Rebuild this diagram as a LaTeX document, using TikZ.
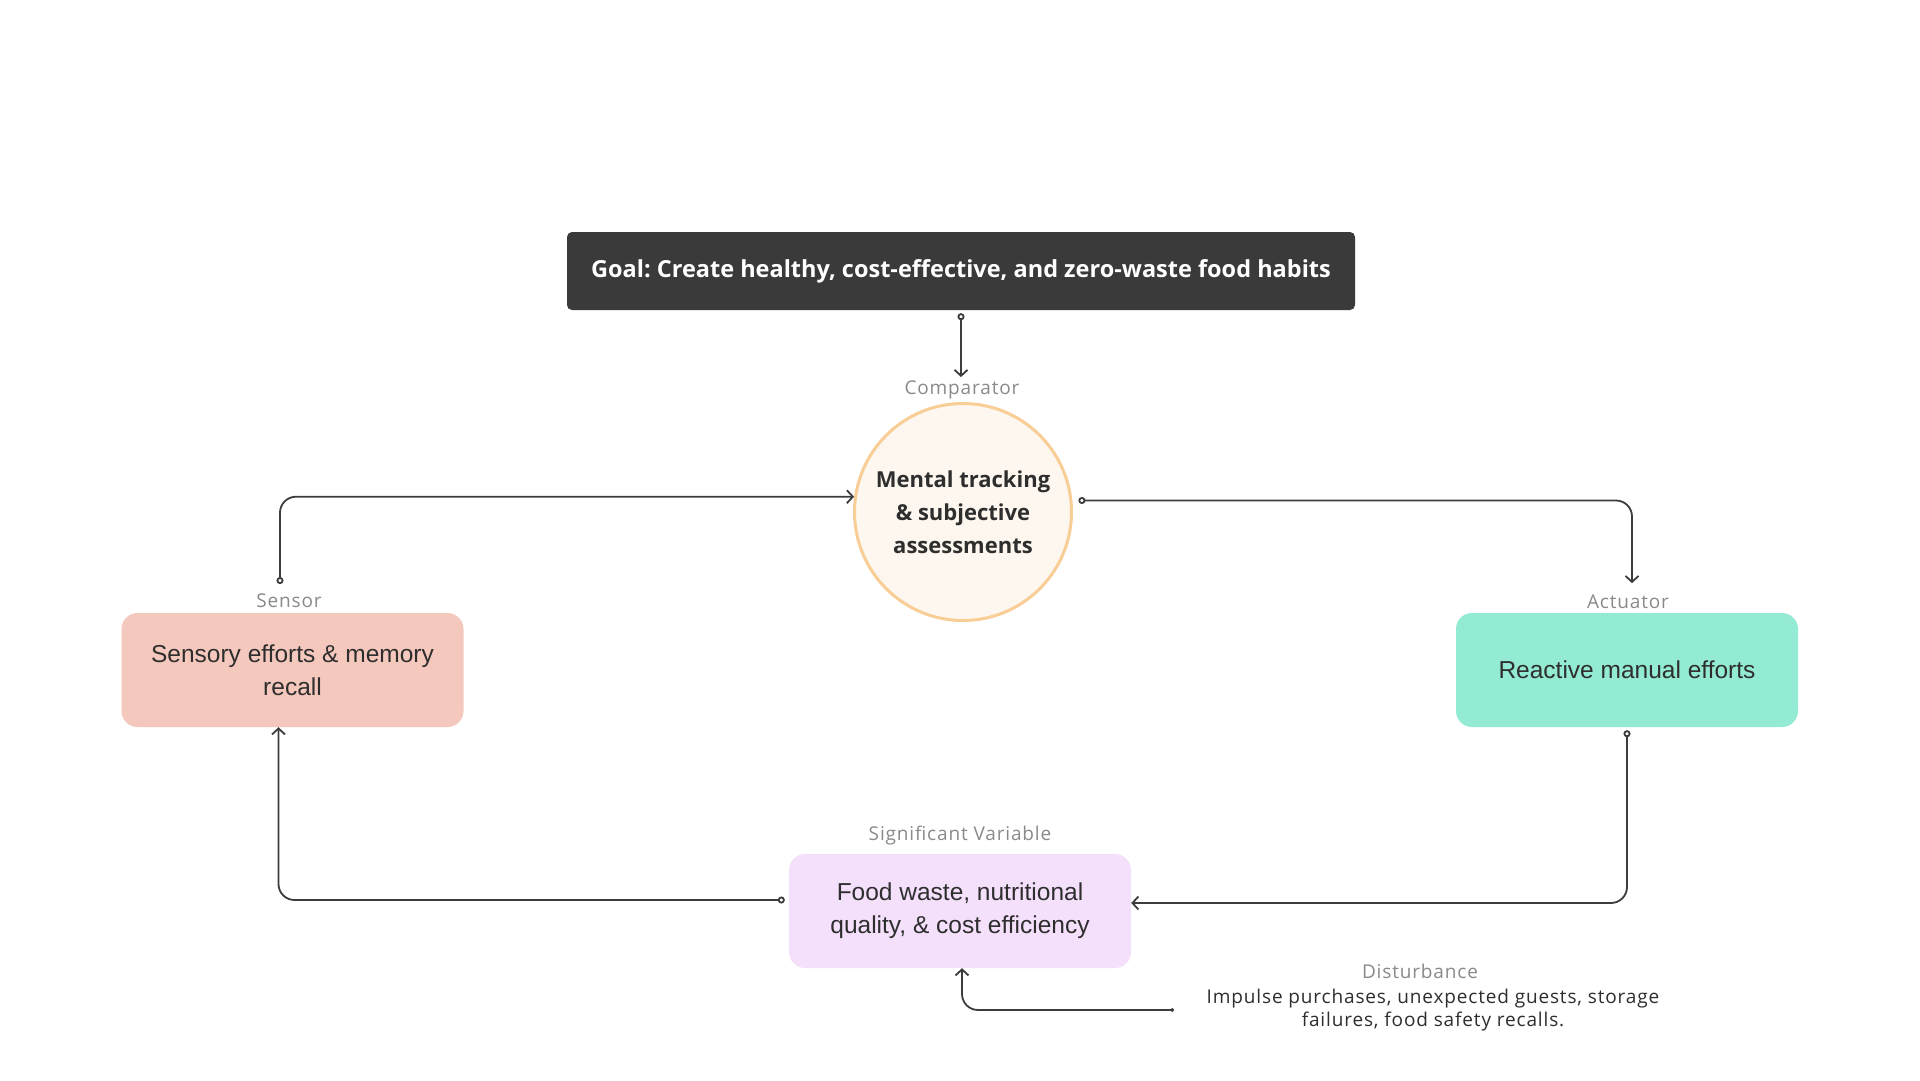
\documentclass[tikz,border=0pt]{standalone}
\usepackage{fontspec}
\setmainfont{Liberation Sans}
\newfontfamily\opensans{Open Sans}
\newfontfamily\opensanswide[LetterSpace=4.5]{Open Sans}
\usetikzlibrary{arrows.meta}
\definecolor{goalgray}{HTML}{3A3A3A}
\definecolor{linegray}{HTML}{3C3C3C}
\definecolor{taggray}{HTML}{8A8A8A}
\definecolor{textdark}{HTML}{2E2E2E}
\definecolor{compfill}{HTML}{FDF7EF}
\definecolor{compedge}{HTML}{F8CD96}
\definecolor{sensorfill}{HTML}{F5C8BD}
\definecolor{actfill}{HTML}{93EBD3}
\definecolor{svfill}{HTML}{F4E0FA}
\frenchspacing

\begin{document}
\begin{tikzpicture}[x=1pt,y=-1pt,
  >={Straight Barb[length=6pt,width=13pt]},
  conn/.style={draw=linegray,line width=1.8pt,rounded corners=16pt},
  link/.style={conn,{Circle[open,length=7pt,width=7pt]}->},
  tag/.style={font=\opensanswide\fontsize{19}{22}\selectfont,text=taggray,anchor=base,inner sep=1pt},
  box/.style={rectangle,rounded corners=16pt,minimum width=342pt,minimum height=114pt,
    text=textdark,font=\fontsize{24.5}{33}\selectfont,align=center}]
  \fill[white] (0,0) rectangle (1920,1080);
  \useasboundingbox (0,0) rectangle (1920,1080);
  \node[rectangle,rounded corners=5pt,fill=goalgray,minimum width=788pt,minimum height=78pt,
    text=white,font=\opensans\bfseries\fontsize{23.5}{28}\selectfont] (goal) at (961,271)
    {Goal: Create healthy, cost-effective, and zero-waste food habits};
  \node[tag] (complabel) at (962,394) {Comparator};
  \node[circle,draw=compedge,line width=3pt,fill=compfill,minimum size=217pt,inner sep=0pt,
    align=center,text=textdark,font=\opensans\bfseries\fontsize{22}{33}\selectfont] (comp) at (963,512)
    {Mental tracking\\\& subjective\\assessments};
  \node[tag] (sensorlabel) at (289,607) {Sensor};
  \node[box,fill=sensorfill] (sensor) at (292.5,670) {Sensory efforts \& memory\\recall};
  \node[tag] (actlabel) at (1628,608) {Actuator};
  \node[box,fill=actfill] (act) at (1627,670) {Reactive manual efforts};
  \node[tag] (svlabel) at (960,840) {Significant Variable};
  \node[box,fill=svfill] (sv) at (960,911) {Food waste, nutritional\\quality, \& cost efficiency};
  \node[tag] (distlabel) at (1420,978) {Disturbance};
  \node[font=\opensanswide\fontsize{19}{23}\selectfont,text=textdark,align=center] (disttext) at (1433,1010)
    {Impulse purchases, unexpected guests, storage\\failures, food safety recalls.};
  \coordinate (diststart) at (1174,1010);

  \draw[link] ([yshift=-3pt]goal.south) -- ([yshift=2pt]goal.south |- complabel.north);
  \draw[link] ([xshift=-9pt,yshift=8pt]sensorlabel.north) |- (comp.172);
  \draw[link] ([xshift=6pt]comp.6) -| ([xshift=4pt,yshift=10pt]actlabel.north);
  \draw[link] ([yshift=-3pt]act.south) |- ([yshift=8pt]sv.east);
  \draw[link] ([xshift=-4pt,yshift=11pt]sv.west) -| ([xshift=-14pt]sensor.south);
  \draw[conn,{Circle[length=3.5pt]}->] (diststart) -| ([xshift=2pt]sv.south);
\end{tikzpicture}
\end{document}
